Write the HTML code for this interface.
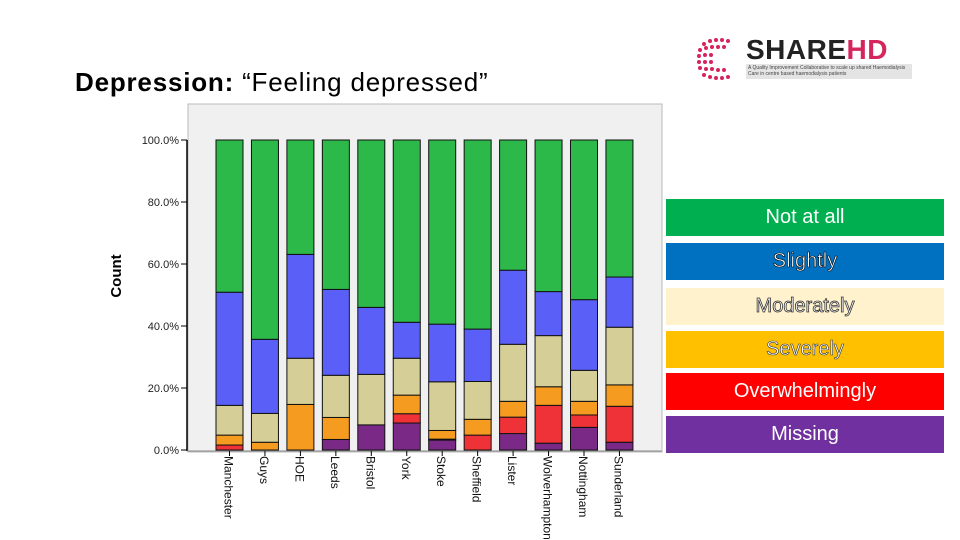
<!DOCTYPE html>
<html><head><meta charset="utf-8"><style>
body{margin:0;width:960px;height:540px;background:#fff;overflow:hidden;font-family:"Liberation Sans",sans-serif;position:relative}
.leg{position:absolute;left:666px;width:278px;height:37px;display:flex;align-items:center;justify-content:center;font-size:20px;color:#fff}
</style></head><body>
<div style="position:absolute;left:75px;top:67px;font-size:26px;letter-spacing:0.8px"><b>Depression:</b> “Feeling depressed”</div>
<div style="position:absolute;left:694px;top:36px;width:220px;height:46px">
<svg width="50" height="46"><g fill="#d6245d">
<circle cx="10" cy="8" r="2"/><circle cx="16" cy="5" r="2"/><circle cx="22" cy="4" r="2"/><circle cx="28" cy="4" r="2"/><circle cx="34" cy="5" r="2"/>
<circle cx="6" cy="14" r="2"/><circle cx="12" cy="12" r="2"/><circle cx="18" cy="11" r="2"/><circle cx="24" cy="11" r="2"/><circle cx="30" cy="11" r="2"/>
<circle cx="5" cy="20" r="2"/><circle cx="11" cy="19" r="2"/><circle cx="17" cy="19" r="2"/><circle cx="5" cy="26" r="2"/><circle cx="11" cy="26" r="2"/><circle cx="17" cy="26" r="2"/>
<circle cx="6" cy="32" r="2"/><circle cx="12" cy="33" r="2"/><circle cx="18" cy="33" r="2"/><circle cx="24" cy="34" r="2"/><circle cx="30" cy="34" r="2"/>
<circle cx="10" cy="39" r="2"/><circle cx="16" cy="41" r="2"/><circle cx="22" cy="42" r="2"/><circle cx="28" cy="42" r="2"/><circle cx="34" cy="41" r="2"/></g></svg>
<div style="position:absolute;left:52px;top:-2px;font-size:28px;font-weight:bold;color:#222;letter-spacing:0.5px">SHARE<span style="color:#d6245d">HD</span></div>
<div style="position:absolute;left:52px;top:28px;width:166px;height:15px;background:#e4e4e4;font-size:5px;color:#444;line-height:6px;padding:1px 2px;box-sizing:border-box">A Quality Improvement Collaborative to scale up shared Haemodialysis Care in centre based haemodialysis patients</div>
</div>
<svg id="chart" width="960" height="540" style="position:absolute;left:0;top:0">
<rect x="188" y="104" width="474" height="348" fill="#f0f0f0" stroke="#bbb"/>
<text transform="translate(121,276) rotate(-90)" text-anchor="middle" font-size="15" font-weight="bold">Count</text>
<g id="g"></g>
</svg>
<div class="leg" style="top:199px;background:#00b050">Not at all</div>
<div class="leg" style="top:243px;background:#0070c0;color:#fff;-webkit-text-stroke:0.6px #000">Slightly</div>
<div class="leg" style="top:288px;background:#fff2cc;color:#fff;-webkit-text-stroke:0.8px #333">Moderately</div>
<div class="leg" style="top:331px;background:#ffc000;color:#fff;-webkit-text-stroke:0.6px #333">Severely</div>
<div class="leg" style="top:373px;background:#ff0000">Overwhelmingly</div>
<div class="leg" style="top:416px;background:#7030a0">Missing</div>
<script>
const categories=["Manchester","Guys","HOE","Leeds","Bristol","York","Stoke","Sheffield","Lister","Wolverhampton","Nottingham","Sunderland"];
const missing=[0,0,0,3.4,8.1,8.7,3.2,0,5.3,2.2,7.3,2.5];
const overwhelmingly=[1.6,0,0,0,0,3.0,0.3,4.8,5.3,12.2,4.0,11.6];
const severely=[3.2,2.5,14.7,7.1,0,6.0,2.8,5.1,5.1,6.0,4.4,6.9];
const moderately=[9.6,9.3,14.9,13.6,16.3,11.9,15.7,12.2,18.4,16.5,10.0,18.6];
const slightly=[36.5,23.9,33.5,27.7,21.6,11.6,18.6,16.9,23.9,14.2,22.8,16.2];
const notAtAll=[49.1,64.3,36.9,48.2,54.0,58.8,59.4,61.0,42.0,48.9,51.5,44.2];
const yTicks=[0,20,40,60,80,100];
const series=[missing,overwhelmingly,severely,moderately,slightly,notAtAll];
const seriesNames=["missing","overwhelmingly","severely","moderately","slightly","not-at-all"];
const colors=["#7a2a86","#ee3238","#f59b20","#d5cf97","#5a5ff7","#2db84a"];
const NS="http://www.w3.org/2000/svg",g=document.getElementById('g');
const y=v=>450-v*3.1, x=i=>216+i*35.45, bw=27;
function mk(t,a){const e=document.createElementNS(NS,t);for(const k in a)e.setAttribute(k,a[k]);g.appendChild(e);return e;}
mk('line',{x1:187,y1:140,x2:187,y2:451,stroke:'#000','stroke-width':1.5});
mk('line',{x1:187,y1:451,x2:662,y2:451,stroke:'#888'});
yTicks.forEach(t=>{
 const l=mk('line',{x1:181,x2:187,y1:y(t),y2:y(t),stroke:'#000'});
 const tx=mk('text',{x:179,y:y(t)+4,'text-anchor':'end','font-size':11,fill:'#222'});
 tx.textContent=t.toFixed(1)+'%';
 
 
});
categories.forEach((c,i)=>{
 let cum=0;
 series.forEach((s,k)=>{
  const v=s[i]; if(v<=0){return;}
  const r=mk('rect',{x:x(i),y:y(cum+v),width:bw,height:v*3.1,fill:colors[k],stroke:'#111','stroke-width':1});
  
  
  cum+=v;
 });
 mk('line',{x1:x(i)+bw/2,x2:x(i)+bw/2,y1:451,y2:456,stroke:'#000'});
 const t=mk('text',{transform:`translate(${x(i)+bw/2-5},456) rotate(90)`,'font-size':12,fill:'#111'});
 t.textContent=c;
 
 
});
</script>
</body></html>
